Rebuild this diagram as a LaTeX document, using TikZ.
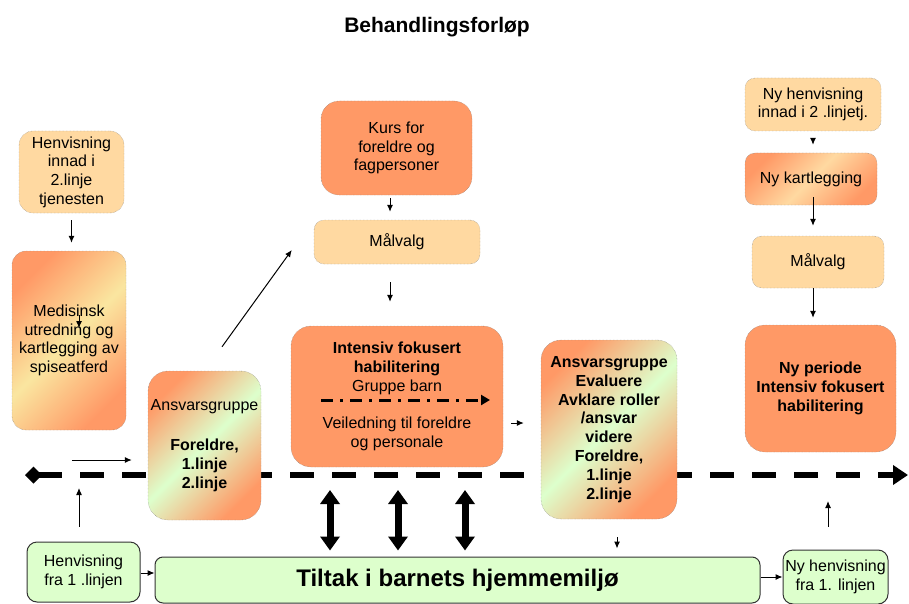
\documentclass[tikz,border=0pt]{standalone}
\usepackage{fontspec}
\setmainfont{Liberation Sans}
\usetikzlibrary{arrows.meta}

\definecolor{salmon}{RGB}{255,153,102}
\definecolor{peach}{RGB}{255,217,161}
\definecolor{mint}{RGB}{221,255,204}
\definecolor{cream}{RGB}{250,230,160}
\definecolor{frame}{RGB}{120,120,120}

\begin{document}
\begin{tikzpicture}[x=1pt, y=-1pt,
	upperbox/.style={rectangle, rounded corners=14pt, draw=frame, densely dotted,
		align=center, inner sep=2pt, font=\fontsize{16}{18.7}\selectfont},
	lowerbox/.style={rectangle, rounded corners=10pt, draw=black!80, fill=mint,
		line width=1pt, align=center, inner sep=2pt, font=\fontsize{16}{18.7}\selectfont},
	heavy/.style={font=\fontsize{16}{18.8}\selectfont\bfseries},
	grad/.style 2 args={top color=#1, bottom color=#1, middle color=#2, shading angle=45},
	arr/.style={-{Latex[length=7pt,width=6pt]}, line width=1pt},
	timeline/.style={line width=5.5pt, dash pattern=on 24pt off 18pt, dash phase=0pt,
		{Diamond[length=17pt,width=17pt]}-{Triangle[length=15pt,width=19pt]}},
	twoway/.style={line width=7pt, {Triangle[length=14pt,width=19pt]}-{Triangle[length=14pt,width=19pt]}},
	]
	\useasboundingbox (0,0) rectangle (909,604);

	\node[font=\fontsize{21}{24}\selectfont\bfseries] (title) at (437,27) {Behandlingsforløp};

	% time line behind the boxes
	\coordinate (tlStart) at (25,475);
	\coordinate (tlEnd) at (908,475);
	\draw[timeline] (tlStart) -- (tlEnd);

	% left column
	\node[upperbox, fill=peach, minimum width=105pt, minimum height=82pt] (henv)
		at (71.5,172) {Henvisning\\innad i\\2.linje\\tjenesten};
	\node[upperbox, grad={salmon}{cream}, minimum width=114pt, minimum height=179pt] (medis)
		at (69,340.5) {Medisinsk\\utredning og\\kartlegging av\\spiseatferd};
	\node[upperbox, grad={salmon}{mint}, minimum width=113pt, minimum height=149pt, rounded corners=20pt] (ansv)
		at (204.5,445.5) {Ansvarsgruppe\\[22pt]\textbf{Foreldre,}\\\textbf{1.linje}\\\textbf{2.linje}};

	% middle column
	\node[upperbox, fill=salmon, minimum width=151pt, minimum height=94pt, rounded corners=18pt] (kurs)
		at (396.5,148) {Kurs for\\foreldre og\\fagpersoner};
	\node[upperbox, fill=peach, minimum width=166pt, minimum height=44pt, rounded corners=10pt] (malA)
		at (397,242) {Målvalg};
	\node[upperbox, fill=salmon, minimum width=212pt, minimum height=141pt, rounded corners=20pt] (intens)
		at (397,396.5) {\textbf{Intensiv fokusert}\\\textbf{habilitering}\\Gruppe barn\\[18.7pt]Veiledning til foreldre\\og personale};
	\node[upperbox, heavy, grad={salmon}{mint}, minimum width=136pt, minimum height=179pt, rounded corners=20pt] (evalu)
		at (609,429.5) {Ansvarsgruppe\\Evaluere\\Avklare roller\\/ansvar\\videre\\Foreldre,\\1.linje\\2.linje};

	% right column
	\node[upperbox, fill=peach, minimum width=136pt, minimum height=53pt, rounded corners=10pt] (nyhenv)
		at (813,104.5) {Ny henvisning\\innad i 2 .linjetj.};
	\node[upperbox, grad={salmon}{peach}, minimum width=132pt, minimum height=52pt, rounded corners=10pt] (nykart)
		at (811,179) {Ny kartlegging};
	\node[upperbox, fill=peach, minimum width=132pt, minimum height=52pt, rounded corners=10pt] (malB)
		at (818,262) {Målvalg};
	\node[upperbox, heavy, fill=salmon, minimum width=151pt, minimum height=127pt, rounded corners=20pt] (nyper)
		at (820.5,388.5) {Ny periode\\Intensiv fokusert\\habilitering};

	% bottom row
	\node[lowerbox, minimum width=113pt, minimum height=60pt] (henvL)
		at (83.5,572) {Henvisning\\fra 1 .linjen};
	\node[lowerbox, minimum width=605pt, minimum height=46pt, rounded corners=8pt,
		font=\fontsize{24}{28}\selectfont\bfseries] (tiltak)
		at (457.5,580) {Tiltak i barnets hjemmemiljø};
	\node[lowerbox, minimum width=105pt, minimum height=54pt] (nyhenvL)
		at (835.5,577) {Ny henvisning\\fra 1. linjen};

	% connectors
	\draw[arr, shorten <=7pt, shorten >=8pt] (henv.south) -- (henv.south |- medis.north);
	\draw[arr] ([xshift=10pt,yshift=25.5pt]medis.center) -- ([xshift=10pt,yshift=12.5pt]medis.center);
	\draw[arr] ([xshift=17.5pt,yshift=24pt]ansv.north) -- ([xshift=-22pt,yshift=-8pt]malA.west);
	\draw[arr, shorten <=3pt, shorten >=8pt] ([xshift=-6.5pt]kurs.south) -- ([xshift=-7pt]malA.north);
	\draw[arr, shorten <=18pt, shorten >=24pt] ([xshift=-7pt]malA.south) -- ([xshift=-7pt]intens.north);
	\draw[line width=3pt, dash pattern=on 12pt off 7pt on 3pt off 7pt, -{Triangle[length=9pt,width=10pt]}]
		([xshift=-76pt,yshift=-3.5pt]intens.center) -- ([xshift=93pt,yshift=-3.5pt]intens.center);
	\draw[arr, shorten <=8pt, shorten >=17pt] ([yshift=-26.5pt]intens.east) -- ([yshift=6.5pt]evalu.west);
	\draw[arr, shorten <=18pt, shorten >=8pt] ([xshift=8pt]evalu.south) -- ([xshift=8pt]evalu.south |- tiltak.north);

	\draw[arr, shorten <=7pt, shorten >=8pt] (nyhenv.south) -- (nyhenv.south |- nykart.north);
	\draw[arr, shorten <=-8pt, shorten >=10pt] ([xshift=2pt]nykart.south) -- ([xshift=2pt]nykart.south |- malB.north);
	\draw[arr, shorten >=7pt] ([xshift=-5pt]malB.south) -- ([xshift=-5pt]malB.south |- nyper.north);

	\draw[arr, shorten >=16pt] ([xshift=-76pt,yshift=-14.5pt]ansv.west) -- ([yshift=-14.5pt]ansv.west);
	\draw[arr, shorten <=15pt, shorten >=13pt] ([xshift=-4.5pt]henvL.north) -- ([xshift=-4.5pt]henvL.north |- tlStart);
	\draw[arr] ([yshift=-1pt]henvL.east) -- ([yshift=-1pt]henvL.east -| tiltak.west);
	\draw[arr] ([yshift=3pt]tiltak.east) -- ([yshift=3pt]tiltak.east -| nyhenvL.west);
	\draw[arr, shorten <=23pt, shorten >=26pt] ([xshift=-7.5pt]nyhenvL.north) -- ([xshift=-7.5pt]nyhenvL.north |- tlEnd);

	\foreach \x in {330,398,465} {
		\coordinate (tl\x) at (\x,475);
		\draw[twoway, shorten <=15pt, shorten >=6pt] (tl\x) -- (tl\x |- tiltak.north);
	}
\end{tikzpicture}
\end{document}
